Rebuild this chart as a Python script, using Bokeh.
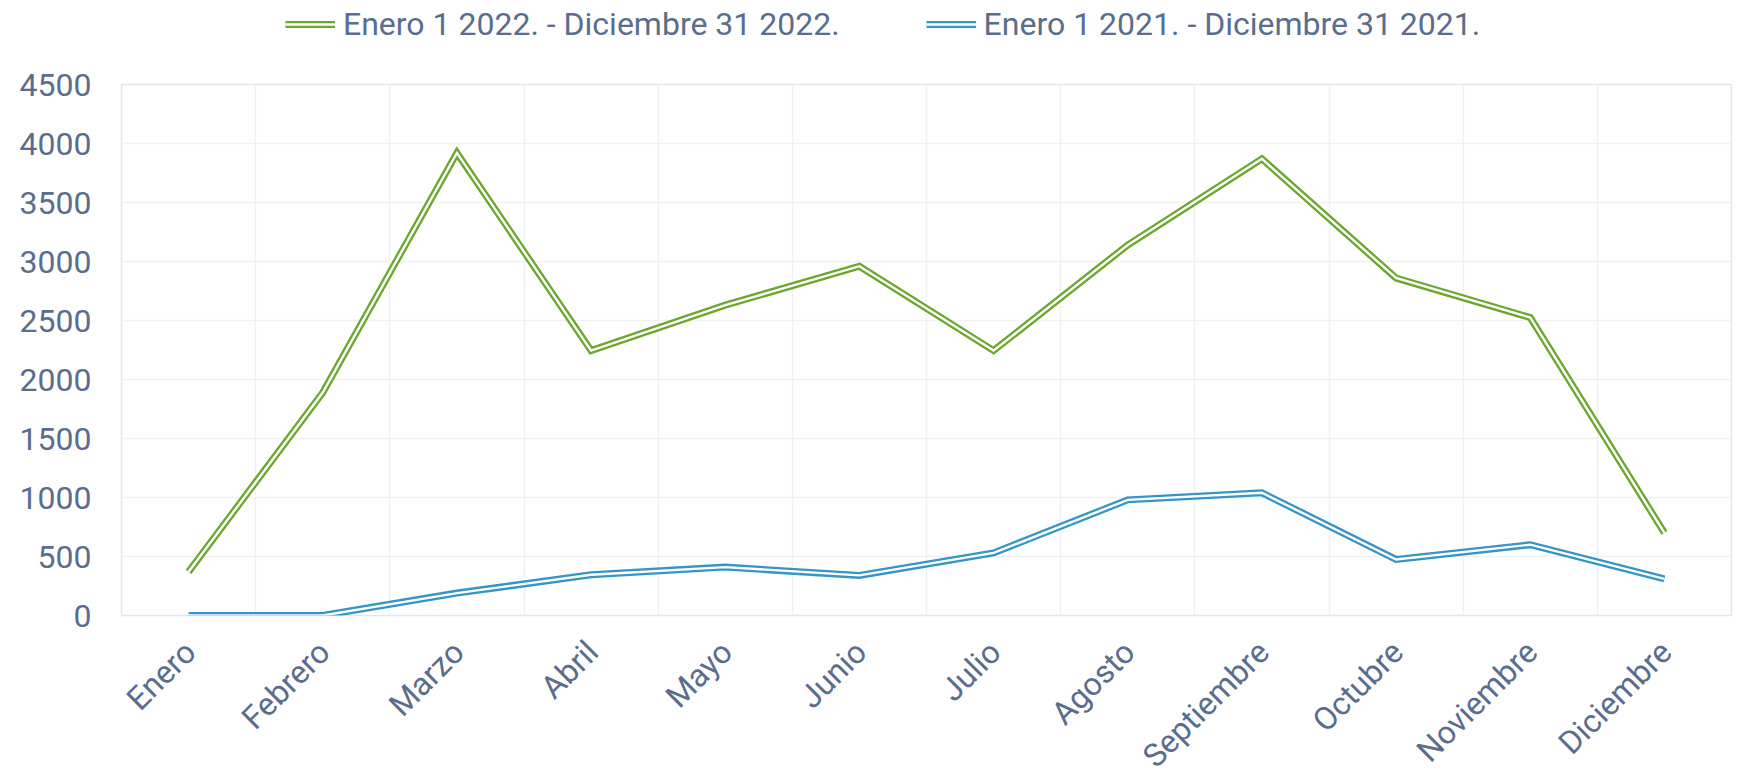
import math
from bokeh.plotting import figure
from bokeh.layouts import column
from bokeh.models import Range1d, FixedTicker, Legend, LegendItem, ColumnDataSource
from bokeh.embed import file_html
from bokeh.resources import INLINE

months = ["Enero", "Febrero", "Marzo", "Abril", "Mayo", "Junio", "Julio",
          "Agosto", "Septiembre", "Octubre", "Noviembre", "Diciembre"]
serie_2022 = [370, 1890, 3920, 2245, 2630, 2960, 2245, 3140, 3870, 2860, 2525, 700]
serie_2021 = [0, 0, 190, 345, 410, 340, 530, 980, 1040, 475, 600, 310]
label_2022 = "Enero 1 2022. - Diciembre 31 2022."
label_2021 = "Enero 1 2021. - Diciembre 31 2021."
y_ticks = [0, 500, 1000, 1500, 2000, 2500, 3000, 3500, 4000, 4500]

GREEN = "#6aa72c"
BLUE = "#3595c7"
TEXT = "#5a6d8c"
FONT = "Roboto"
FS = "32px"
W = 1736
TOP_H = 64
MAIN_TOP = 20
FRAME_H = 531
MAIN_BOT = 18
BOT_H = 770 - TOP_H - (MAIN_TOP + FRAME_H + MAIN_BOT)
LABEL_DROP = 31  # px below the plot frame

xs = [i + 0.5 for i in range(len(months))]
src22 = ColumnDataSource(dict(x=xs, y=serie_2022))
src21 = ColumnDataSource(dict(x=xs, y=serie_2021))


def series(fig):
    r1 = fig.line("x", "y", source=src22, line_color=GREEN, line_width=7, line_join="miter")
    r2 = fig.line("x", "y", source=src22, line_color="white", line_width=2.4, line_join="miter")
    r3 = fig.line("x", "y", source=src21, line_color=BLUE, line_width=7, line_join="miter")
    r4 = fig.line("x", "y", source=src21, line_color="white", line_width=2.4, line_join="miter")
    return r1, r2, r3, r4


def bare(fig):
    fig.axis.visible = False
    fig.grid.visible = False
    fig.outline_line_color = None
    fig.background_fill_color = "white"
    fig.border_fill_color = "white"


# ---------------- legend strip ----------------
leg = figure(width=W, height=TOP_H, output_backend="svg", toolbar_location=None,
             x_range=Range1d(0, 12), y_range=Range1d(-200, -100),
             min_border_left=0, min_border_right=0, min_border_top=0, min_border_bottom=0)
bare(leg)
lg1, lg2, lb1, lb2 = series(leg)   # out of view; only used for legend swatches
legend = Legend(items=[LegendItem(label=label_2022, renderers=[lg1, lg2]),
                       LegendItem(label=label_2021, renderers=[lb1, lb2])],
                location=(164, 20), orientation="horizontal",
                margin=0, padding=0, border_line_alpha=0, background_fill_alpha=0,
                glyph_width=50, glyph_height=30, label_standoff=8, spacing=86,
                label_text_font=FONT, label_text_font_size=FS,
                label_text_color=TEXT, label_height=40)
leg.add_layout(legend)

# ---------------- main chart ----------------
p = figure(width=W, height=MAIN_TOP + FRAME_H + MAIN_BOT, output_backend="svg",
           toolbar_location=None,
           x_range=Range1d(0, 12), y_range=Range1d(0, 4500),
           min_border_left=121, min_border_right=5, min_border_top=MAIN_TOP,
           min_border_bottom=MAIN_BOT)
p.background_fill_color = "white"
p.border_fill_color = "white"
p.outline_line_color = "#e3e7ed"
p.outline_line_width = 1.5
series(p)

p.xaxis.visible = False
p.yaxis.ticker = FixedTicker(ticks=y_ticks)
ya = p.yaxis[0]
ya.major_label_standoff = 30
ya.axis_line_color = None
ya.major_tick_line_color = None
ya.minor_tick_line_color = None
ya.major_tick_out = 0
ya.major_tick_in = 0
ya.major_label_text_font = FONT
ya.major_label_text_font_size = FS
ya.major_label_text_color = TEXT

p.xgrid.ticker = FixedTicker(ticks=list(range(13)))
p.xgrid.grid_line_color = "#eff1f4"
p.ygrid.grid_line_color = "#eff1f4"
p.xgrid.grid_line_width = 1.5
p.ygrid.grid_line_width = 1.5

# ---------------- month labels strip ----------------
bot = figure(width=W, height=BOT_H, output_backend="svg", toolbar_location=None,
             x_range=p.x_range, y_range=Range1d(0, BOT_H),
             min_border_left=0, min_border_right=0, min_border_top=0, min_border_bottom=0)
bare(bot)
label_y = BOT_H - (LABEL_DROP - MAIN_BOT)
lab_src = ColumnDataSource(dict(x=xs, y=[label_y] * len(months), text=months))
bot.text("x", "y", text="text", source=lab_src, angle=math.pi / 4,
         text_align="right", text_baseline="middle", x_offset=1.5,
         text_font={"value": FONT}, text_font_size={"value": FS}, text_color=TEXT)

layout = column(leg, p, bot, spacing=0)
open("out.html", "w").write(file_html(layout, INLINE))
